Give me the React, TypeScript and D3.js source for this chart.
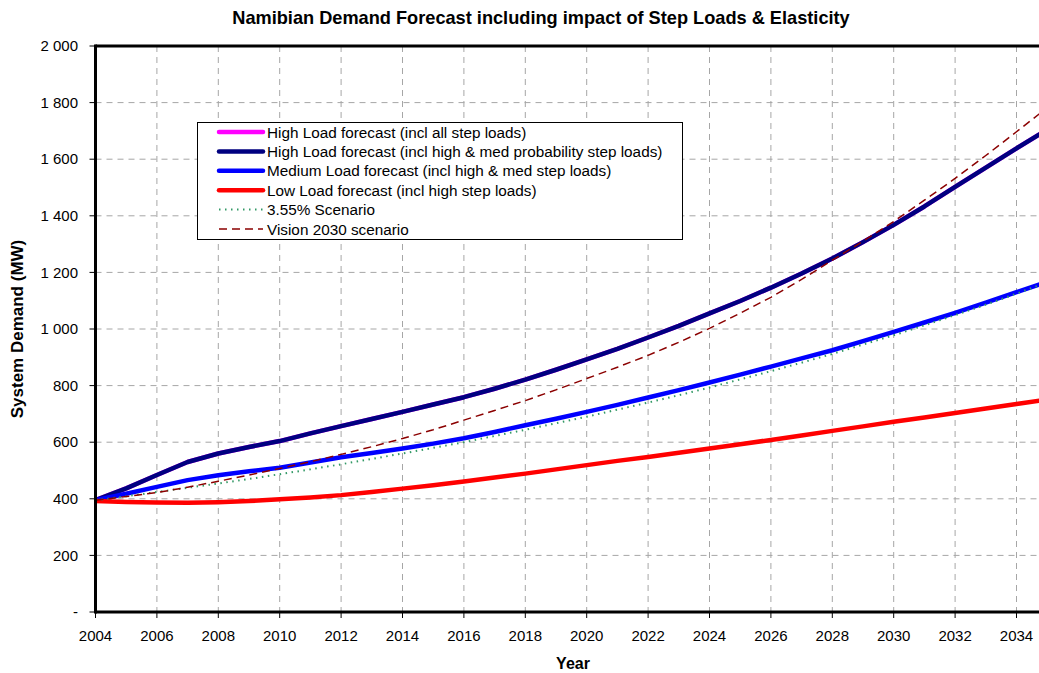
import React from 'react';
import * as d3 from 'd3';

const years = d3.range(2004, 2036);

// High Load (incl all step loads) sits under the high & med line in the picture
const highAll = [395, 437, 484, 530, 560, 583, 604, 631, 657, 682, 707, 733, 759, 789, 821, 856, 893, 930, 970, 1011, 1055, 1099, 1146, 1196, 1249, 1307, 1368, 1433, 1502, 1570, 1638, 1705];
const highMed = [395, 437, 484, 530, 560, 583, 604, 631, 657, 682, 707, 733, 759, 789, 821, 856, 893, 930, 970, 1011, 1055, 1099, 1146, 1196, 1249, 1307, 1368, 1433, 1502, 1570, 1638, 1705];
const medium = [395, 418, 442, 466, 483, 497, 510, 528, 547, 562, 578, 595, 614, 636, 660, 683, 707, 732, 758, 784, 811, 839, 867, 896, 925, 957, 990, 1023, 1057, 1093, 1130, 1166];
const low = [392, 389, 387, 386, 388, 392, 398, 405, 413, 424, 436, 448, 461, 475, 489, 504, 519, 534, 548, 563, 578, 593, 608, 624, 640, 656, 672, 687, 703, 719, 735, 751];
const scenario355 = [395, 409, 424, 439, 454, 470, 487, 504, 522, 541, 560, 580, 600, 622, 644, 667, 690, 715, 740, 766, 793, 822, 851, 881, 912, 945, 978, 1013, 1049, 1086, 1125, 1165];
const vision2030 = [395, 408, 422, 441, 462, 484, 507, 531, 557, 584, 613, 644, 678, 712, 747, 785, 825, 865, 907, 953, 1002, 1056, 1112, 1175, 1243, 1310, 1380, 1455, 1532, 1613, 1697, 1782];

const xTicks = d3.range(2004, 2036, 2);
const yTicks = d3.range(0, 2001, 200);

const series = [
  { name: 'High Load forecast (incl all step loads)', values: highAll, color: '#FF00FF', width: 4.5, dash: null },
  { name: 'High Load forecast (incl high & med probability step loads)', values: highMed, color: '#000080', width: 4.5, dash: null },
  { name: 'Medium Load forecast (incl high & med step loads)', values: medium, color: '#0000FF', width: 4.5, dash: null },
  { name: 'Low Load forecast (incl high step loads)', values: low, color: '#FF0000', width: 4.5, dash: null },
  { name: '3.55% Scenario', values: scenario355, color: '#339966', width: 2, dash: '1.5,4.5' },
  { name: 'Vision 2030 scenario', values: vision2030, color: '#8B0000', width: 1.5, dash: '8,5' },
];

const W = 1039;
const H = 673;
const left = 95.5;
const top = 46;
const bottom = 612;

const fmt = (v: number) => (v === 0 ? '-' : d3.format(',')(v).replace(/,/g, ' '));

export default function App() {
  const x = d3.scaleLinear().domain([2004, 2035]).range([left, left + 31 * 30.7]);
  const y = d3.scaleLinear().domain([0, 2000]).range([bottom, top]);

  const line = (vals: number[]) =>
    d3.line<number>().x((_, i) => x(years[i])).y((d) => y(d))(vals) || '';

  const font = 'Arial, "Liberation Sans", Helvetica, sans-serif';

  return (
    <svg width={W} height={H} style={{ position: 'absolute', left: 0, top: 0, background: '#fff' }} fontFamily={font}>
      <rect width={W} height={H} fill="#fff" />
      <text x={541} y={24} textAnchor="middle" fontSize={18.2} fontWeight="bold">
        Namibian Demand Forecast including impact of Step Loads &amp; Elasticity
      </text>

      {/* grid */}
      {xTicks.slice(1).map((t) => (
        <line key={'gx' + t} x1={x(t)} x2={x(t)} y1={top} y2={bottom} stroke="#a6a6a6" strokeDasharray="6,5" />
      ))}
      {yTicks.slice(1, -1).map((t) => (
        <line key={'gy' + t} x1={left} x2={W} y1={y(t)} y2={y(t)} stroke="#a6a6a6" strokeDasharray="6,5" />
      ))}

      {/* series */}
      {series.map((s) => (
        <path
          key={s.name}
          d={line(s.values)}
          fill="none"
          stroke={s.color}
          strokeWidth={s.width}
          strokeDasharray={s.dash || undefined}
          strokeLinejoin="round"
        />
      ))}

      {/* frame */}
      <line x1={left} x2={W} y1={top} y2={top} stroke="#000" strokeWidth={3} />
      <line x1={left} x2={W} y1={bottom} y2={bottom} stroke="#000" strokeWidth={3} />
      <line x1={left} x2={left} y1={top - 1.5} y2={bottom + 1.5} stroke="#000" strokeWidth={3} />

      {/* y axis */}
      {yTicks.map((t) => (
        <g key={'yt' + t}>
          <line x1={left - 6} x2={left} y1={y(t)} y2={y(t)} stroke="#000" />
          <text x={78} y={y(t)} dy="0.35em" textAnchor="end" fontSize={15}>
            {fmt(t)}
          </text>
        </g>
      ))}
      {/* x axis */}
      {xTicks.map((t) => (
        <g key={'xt' + t}>
          <line x1={x(t)} x2={x(t)} y1={bottom} y2={bottom + 6} stroke="#000" />
          <text x={x(t)} y={641} textAnchor="middle" fontSize={15}>
            {t}
          </text>
        </g>
      ))}

      <text x={573} y={669} textAnchor="middle" fontSize={16} fontWeight="bold">
        Year
      </text>
      <text transform={`translate(23, ${(top + bottom) / 2}) rotate(-90)`} textAnchor="middle" fontSize={17} fontWeight="bold">
        System Demand (MW)
      </text>

      {/* legend */}
      <rect x={197.5} y={122.5} width={485} height={117} fill="#fff" stroke="#000" strokeWidth={1} />
      {series.map((s, i) => {
        const ly = 132 + i * 19.4;
        return (
          <g key={'lg' + s.name}>
            <line x1={219} x2={263} y1={ly} y2={ly} stroke={s.color} strokeWidth={s.width} strokeDasharray={s.dash || undefined} strokeLinecap={s.dash ? 'butt' : 'round'} />
            <text x={267} y={ly} dy="0.36em" fontSize={15.3}>
              {s.name}
            </text>
          </g>
        );
      })}
    </svg>
  );
}
